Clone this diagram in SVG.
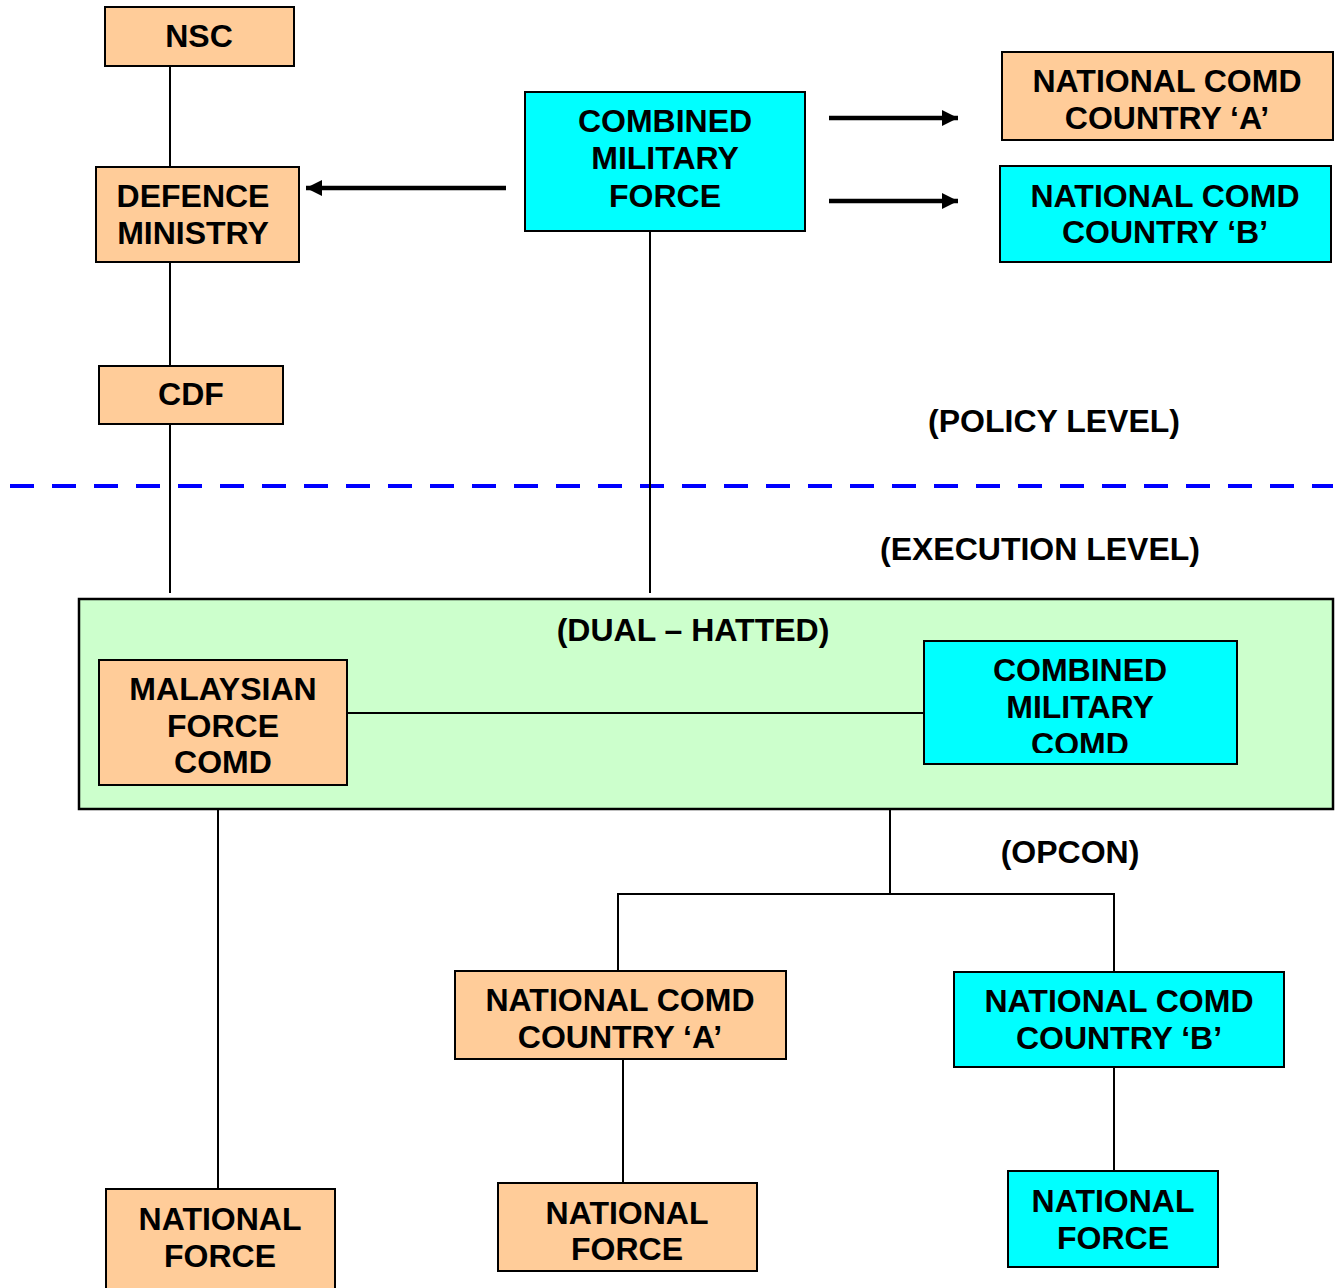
<svg xmlns="http://www.w3.org/2000/svg" width="1343" height="1288" viewBox="0 0 1343 1288">
  <style>
    .peach { fill: #ffcc99; stroke: #000; stroke-width: 2; }
    .cyan { fill: #00ffff; stroke: #000; stroke-width: 2; }
    .zone { fill: #ccffcc; stroke: #000; stroke-width: 2.5; }
    text { font-family: "Liberation Sans", Arial, sans-serif; font-weight: bold; font-size: 32px; fill: #000; text-anchor: middle; }
    .wire { stroke: #000; stroke-width: 2; fill: none; }
    .arrow { stroke: #000; stroke-width: 4.5; fill: none; }
    .divider { stroke: #0000ff; stroke-width: 4; stroke-dasharray: 24 18; fill: none; }
  </style>
  <defs>
    <marker id="head" markerUnits="userSpaceOnUse" markerWidth="20" markerHeight="20" refX="16" refY="8" orient="auto">
      <path d="M0,0 L16,8 L0,16 Z" fill="#000"/>
    </marker>
    <clipPath id="cmcClip">
      <rect x="924" y="641" width="313" height="112"/>
    </clipPath>
  </defs>

  <rect width="1343" height="1288" fill="#fff"/>

  <!-- dual-hatted zone -->
  <g id="dual-hatted">
    <rect class="zone" x="79" y="599" width="1254" height="210"/>
    <text x="693" y="641">(DUAL – HATTED)</text>
  </g>

  <!-- level labels and divider -->
  <line class="divider" x1="10" y1="486" x2="1333" y2="486"/>
  <text x="1054" y="432">(POLICY LEVEL)</text>
  <text x="1040" y="560">(EXECUTION LEVEL)</text>
  <text x="1070" y="863">(OPCON)</text>

  <!-- connectors -->
  <g id="connectors">
    <line class="wire" x1="170" y1="66" x2="170" y2="167"/>
    <line class="wire" x1="170" y1="262" x2="170" y2="366"/>
    <line class="wire" x1="170" y1="424" x2="170" y2="593"/>
    <line class="wire" x1="650" y1="231" x2="650" y2="593"/>
    <line class="wire" x1="347" y1="713" x2="924" y2="713"/>
    <line class="wire" x1="218" y1="809" x2="218" y2="1189"/>
    <polyline class="wire" points="890,809 890,894"/>
    <polyline class="wire" points="618,971 618,894 1114,894 1114,971"/>
    <line class="wire" x1="623" y1="1059" x2="623" y2="1183"/>
    <line class="wire" x1="1114" y1="1067" x2="1114" y2="1171"/>
    <line class="arrow" x1="506" y1="188" x2="306" y2="188" marker-end="url(#head)"/>
    <line class="arrow" x1="829" y1="118" x2="958" y2="118" marker-end="url(#head)"/>
    <line class="arrow" x1="829" y1="201" x2="958" y2="201" marker-end="url(#head)"/>
  </g>

  <g id="nsc">
    <rect class="peach" x="105" y="7" width="189" height="59"/>
    <text x="199" y="47">NSC</text>
  </g>

  <g id="defence-ministry">
    <rect class="peach" x="96" y="167" width="203" height="95"/>
    <text x="193" y="207">DEFENCE</text>
    <text x="193" y="244">MINISTRY</text>
  </g>

  <g id="cdf">
    <rect class="peach" x="99" y="366" width="184" height="58"/>
    <text x="191" y="405">CDF</text>
  </g>

  <g id="combined-military-force">
    <rect class="cyan" x="525" y="92" width="280" height="139"/>
    <text x="665" y="132">COMBINED</text>
    <text x="665" y="169">MILITARY</text>
    <text x="665" y="207">FORCE</text>
  </g>

  <g id="national-comd-a-top">
    <rect class="peach" x="1002" y="52" width="331" height="88"/>
    <text x="1167" y="92">NATIONAL COMD</text>
    <text x="1167" y="129">COUNTRY ‘A’</text>
  </g>

  <g id="national-comd-b-top">
    <rect class="cyan" x="1000" y="166" width="331" height="96"/>
    <text x="1165" y="207">NATIONAL COMD</text>
    <text x="1165" y="243">COUNTRY ‘B’</text>
  </g>

  <g id="malaysian-force-comd">
    <rect class="peach" x="99" y="660" width="248" height="125"/>
    <text x="223" y="700">MALAYSIAN</text>
    <text x="223" y="737">FORCE</text>
    <text x="223" y="773">COMD</text>
  </g>

  <g id="combined-military-comd">
    <rect class="cyan" x="924" y="641" width="313" height="123"/>
    <g clip-path="url(#cmcClip)">
      <text x="1080" y="681">COMBINED</text>
      <text x="1080" y="718">MILITARY</text>
      <text x="1080" y="755">COMD</text>
    </g>
  </g>

  <g id="national-comd-a">
    <rect class="peach" x="455" y="971" width="331" height="88"/>
    <text x="620" y="1011">NATIONAL COMD</text>
    <text x="620" y="1048">COUNTRY ‘A’</text>
  </g>

  <g id="national-comd-b">
    <rect class="cyan" x="954" y="972" width="330" height="95"/>
    <text x="1119" y="1012">NATIONAL COMD</text>
    <text x="1119" y="1049">COUNTRY ‘B’</text>
  </g>

  <g id="national-force-malaysia">
    <rect class="peach" x="106" y="1189" width="229" height="110"/>
    <text x="220" y="1230">NATIONAL</text>
    <text x="220" y="1267">FORCE</text>
  </g>

  <g id="national-force-a">
    <rect class="peach" x="498" y="1183" width="259" height="88"/>
    <text x="627" y="1224">NATIONAL</text>
    <text x="627" y="1260">FORCE</text>
  </g>

  <g id="national-force-b">
    <rect class="cyan" x="1008" y="1171" width="210" height="96"/>
    <text x="1113" y="1212">NATIONAL</text>
    <text x="1113" y="1249">FORCE</text>
  </g>
</svg>
